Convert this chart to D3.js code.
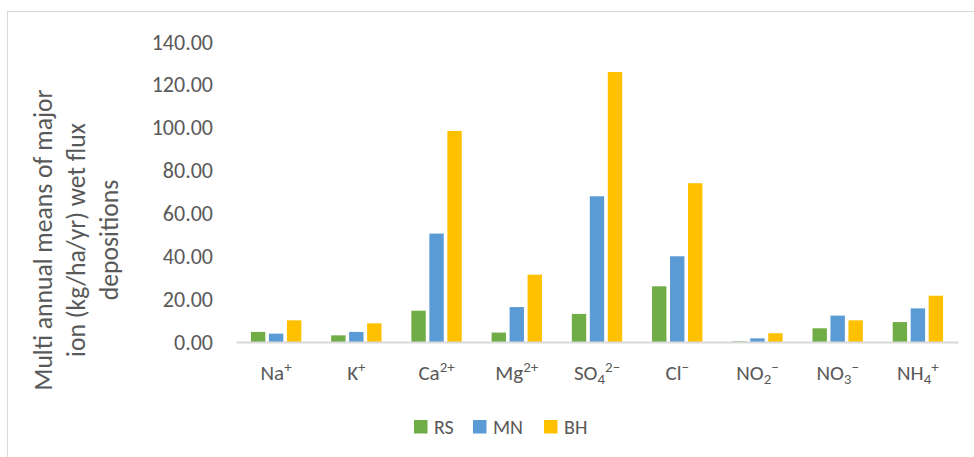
<!DOCTYPE html>
<html>
<head>
<meta charset="utf-8">
<script src="https://cdn.jsdelivr.net/npm/d3@7"></script>
<style>
  html, body { margin: 0; padding: 0; background: #fff; }
  svg { display: block; }
  text { font-family: Carlito, Lato, "Open Sans", sans-serif; fill: #595959; }
</style>
</head>
<body>
<svg id="chart" width="974" height="457"></svg>
<script>
// Ion species on the category axis
const ions = ["Na\u207A", "K\u207A", "Ca\u00B2\u207A", "Mg\u00B2\u207A", "SO\u2084\u00B2\u207B",
              "Cl\u207B", "NO\u2082\u207B", "NO\u2083\u207B", "NH\u2084\u207A"];
// Sites
const sites = ["RS", "MN", "BH"];
// Multi annual mean wet flux deposition (kg/ha/yr) per site
const rsValues = [4.7, 3.1, 14.6, 4.4, 13.1, 26.0, 0.3, 6.4, 9.3];
const mnValues = [3.9, 4.7, 50.6, 16.3, 68.0, 40.0, 1.7, 12.3, 15.7];
const bhValues = [10.1, 8.7, 98.5, 31.4, 126.0, 74.1, 4.1, 10.1, 21.6];
// Value axis ticks
const yTicks = [0, 20, 40, 60, 80, 100, 120, 140];
const siteColors = ["#70AD47", "#5B9BD5", "#FFC000"];

const seriesValues = [rsValues, mnValues, bhValues];
const table = ions.map((ion, i) => ({
  ion,
  values: sites.map((s, j) => ({ site: s, value: seriesValues[j][i] }))
}));

const FONT = "Carlito, Lato, 'Open Sans', sans-serif";
const svg = d3.select("#chart");

// Chart area frame
svg.append("rect")
  .attr("x", 7.5).attr("y", 11.5)
  .attr("width", 1000).attr("height", 500)
  .attr("fill", "none").attr("stroke", "#D9D9D9").attr("stroke-width", 1);

const x0 = d3.scaleBand().domain(ions).range([236, 958]).paddingInner(0).paddingOuter(0);
const x1 = d3.scaleBand().domain(sites).range([0, x0.bandwidth()])
  .paddingInner(0.2).paddingOuter(0.83);
const y = d3.scaleLinear().domain([0, 140]).range([342, 42]);
const color = d3.scaleOrdinal().domain(sites).range(siteColors);

// Value axis labels (no axis line, no gridlines)
const yAxis = d3.axisLeft(y).tickValues(yTicks).tickFormat(d3.format(".2f")).tickSize(0).tickPadding(0);
const gy = svg.append("g").attr("transform", "translate(213,0)").call(yAxis);
gy.select(".domain").remove();
gy.selectAll("text")
  .attr("font-size", 22).attr("fill", "#595959").attr("font-family", FONT);

// Bars
const groups = svg.append("g").selectAll("g").data(table).join("g")
  .attr("transform", d => `translate(${x0(d.ion)},0)`);
groups.selectAll("rect").data(d => d.values).join("rect")
  .attr("x", d => x1(d.site))
  .attr("y", d => y(d.value))
  .attr("width", x1.bandwidth())
  .attr("height", d => y(0) - y(d.value))
  .attr("fill", d => color(d.site));

// Category axis
const xAxis = d3.axisBottom(x0).tickSize(0).tickPadding(0);
const gx = svg.append("g").attr("transform", "translate(0,342)").call(xAxis);
gx.select(".domain").attr("stroke", "#D9D9D9").attr("stroke-width", 2);

// Split an ion label into base, subscript and superscript runs
const SUB = { "\u2082": "2", "\u2083": "3", "\u2084": "4" };
const SUP = { "\u00B2": "2", "\u207A": "+", "\u207B": "\u2212" };
function runs(label) {
  const out = [];
  for (const ch of label) {
    const kind = SUB[ch] ? "sub" : SUP[ch] ? "sup" : "base";
    const t = SUB[ch] || SUP[ch] || ch;
    if (out.length && out[out.length - 1].kind === kind) out[out.length - 1].t += t;
    else out.push({ kind, t });
  }
  return out;
}
gx.selectAll(".tick text").each(function (d) {
  const el = d3.select(this).text(null)
    .attr("y", 38).attr("dy", 0)
    .attr("font-size", 21).attr("fill", "#595959").attr("font-family", FONT);
  let shift = 0;
  runs(d).forEach(r => {
    const target = r.kind === "sup" ? -8 : r.kind === "sub" ? 4 : 0;
    el.append("tspan")
      .attr("dy", target - shift)
      .attr("font-size", r.kind === "base" ? 21 : 15)
      .text(r.t);
    shift = target;
  });
});

// Value axis title, three lines, rotated
const titleLines = ["Multi annual means of major", "ion (kg/ha/yr) wet flux", "depositions"];
const title = svg.append("text")
  .attr("transform", "translate(77,240) rotate(-90)")
  .attr("text-anchor", "middle")
  .attr("font-size", 22);
title.selectAll("tspan").data(titleLines).join("tspan")
  .attr("x", 0)
  .attr("y", (d, i) => (i - 1) * 33 + 8)
  .text(d => d);
// size the title so the first line spans the plot height it labels
const w0 = title.select("tspan").node().getComputedTextLength();
title.attr("font-size", 22 * 301 / w0);

// Legend
const legend = svg.append("g").attr("transform", "translate(414,420)");
const legendX = [0, 59, 130];
sites.forEach((s, i) => {
  const g = legend.append("g").attr("transform", `translate(${legendX[i]},0)`);
  g.append("rect").attr("width", 13.5).attr("height", 13.5).attr("fill", color(s));
  g.append("text").attr("x", 20).attr("y", 14).attr("font-size", 20).text(s);
});
</script>
</body>
</html>
